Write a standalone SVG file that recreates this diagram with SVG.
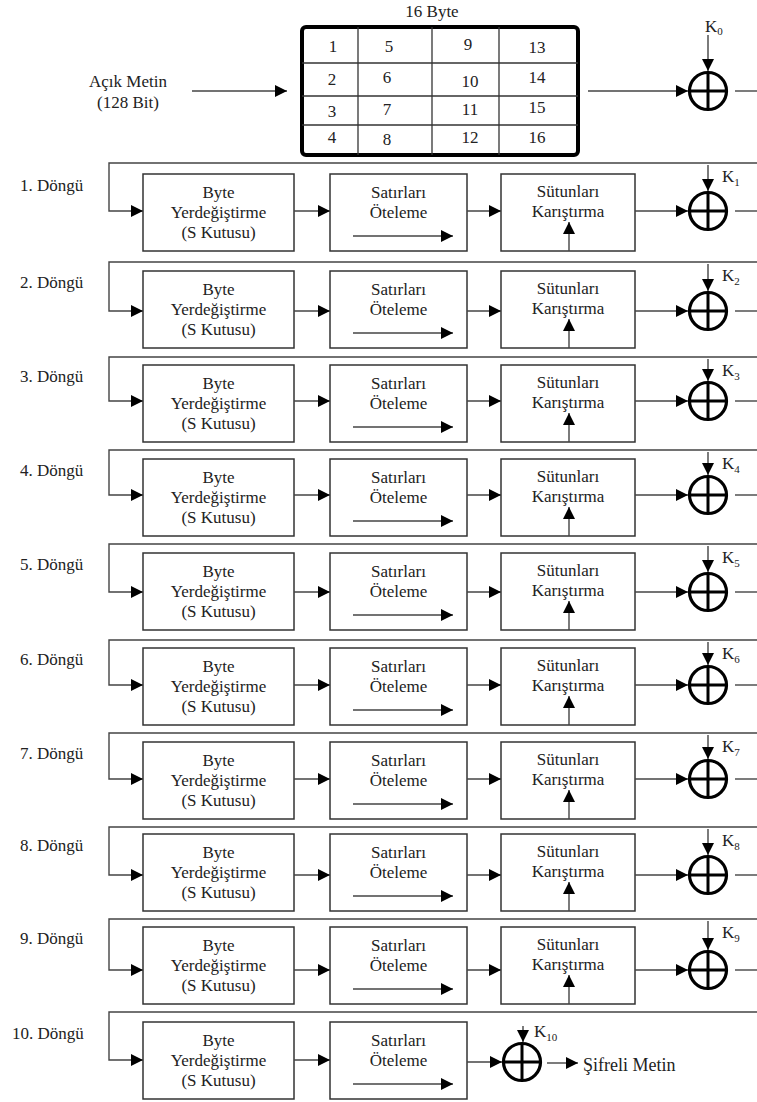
<svg xmlns="http://www.w3.org/2000/svg" xmlns:xlink="http://www.w3.org/1999/xlink" width="757" height="1102" viewBox="0 0 757 1102">
<style>
.bx{fill:#fff;stroke:#333;stroke-width:1.5}
.t{font-family:"Liberation Serif","Times New Roman",serif;font-size:17px;fill:#222;text-anchor:middle}
.l{font-family:"Liberation Serif","Times New Roman",serif;font-size:17px;fill:#222}
.sub{font-size:11px}
.ln{fill:none;stroke:#444;stroke-width:1.4}
.la{fill:none;stroke:#444;stroke-width:1.4;marker-end:url(#ah)}
.xc{fill:#fff;stroke:#000;stroke-width:3.2}
.xl{stroke:#000;stroke-width:3}
.grid{fill:none;stroke:#000;stroke-width:4}
.gl{stroke:#333;stroke-width:1.3}
</style>
<defs>
<marker id="ah" viewBox="0 0 12 12" markerWidth="12" markerHeight="12" refX="12" refY="6" markerUnits="userSpaceOnUse" orient="auto"><path d="M0,0 L12,6 L0,12 z" fill="#000"/></marker>
<g id="xor"><circle class="xc" cx="0" cy="0" r="18.5"/><line class="xl" x1="-18.5" y1="0" x2="18.5" y2="0"/><line class="xl" x1="0" y1="-18.5" x2="0" y2="18.5"/></g>
</defs>
<rect width="757" height="1102" fill="#fff"/>

<g id="input"><text class="t" x="128" y="87">Açık Metin</text><text class="t" x="128" y="108">(128 Bit)</text></g>

<g id="state">
<text class="t" x="432" y="17">16 Byte</text>
<rect class="grid" x="302" y="27" width="276" height="128" rx="4"/>
<line class="gl" x1="358" y1="27" x2="358" y2="155"/><line class="gl" x1="432" y1="27" x2="432" y2="155"/><line class="gl" x1="499" y1="27" x2="499" y2="155"/>
<line class="gl" x1="302" y1="63" x2="578" y2="63"/><line class="gl" x1="302" y1="96" x2="578" y2="96"/><line class="gl" x1="302" y1="125" x2="578" y2="125"/>
<text class="t" x="333" y="52">1</text><text class="t" x="389" y="52">5</text><text class="t" x="468" y="50">9</text><text class="t" x="537" y="53">13</text>
<text class="t" x="332" y="85">2</text><text class="t" x="387" y="83">6</text><text class="t" x="470" y="87">10</text><text class="t" x="537" y="83">14</text>
<text class="t" x="332" y="117">3</text><text class="t" x="387" y="115">7</text><text class="t" x="470" y="115">11</text><text class="t" x="537" y="113">15</text>
<text class="t" x="332" y="143">4</text><text class="t" x="387" y="145">8</text><text class="t" x="470" y="143">12</text><text class="t" x="537" y="143">16</text>
</g>

<g id="xor0"><use xlink:href="#xor" x="708" y="91"/><text class="l" x="705" y="32">K<tspan class="sub" dy="3">0</tspan></text></g>

<!-- Round labels -->
<g id="labels">
<text class="l" x="20" y="191">1. Döngü</text>
<text class="l" x="20" y="288">2. Döngü</text>
<text class="l" x="20" y="382">3. Döngü</text>
<text class="l" x="20" y="476">4. Döngü</text>
<text class="l" x="20" y="570">5. Döngü</text>
<text class="l" x="20" y="665">6. Döngü</text>
<text class="l" x="20" y="759">7. Döngü</text>
<text class="l" x="20" y="851">8. Döngü</text>
<text class="l" x="20" y="944">9. Döngü</text>
<text class="l" x="12" y="1039">10. Döngü</text>
</g>

<!-- Round 1 -->
<g id="r1-sub"><rect class="bx" x="143" y="174" width="151" height="77"/><text class="t" x="218.5" y="198">Byte</text><text class="t" x="218.5" y="218">Yerdeğiştirme</text><text class="t" x="218.5" y="238">(S Kutusu)</text></g>
<g id="r1-shift"><rect class="bx" x="330" y="174" width="137" height="77"/><text class="t" x="398.5" y="198">Satırları</text><text class="t" x="398.5" y="218">Öteleme</text><path class="la" d="M353,236 H453"/></g>
<g id="r1-mix"><rect class="bx" x="501" y="174" width="134" height="77"/><text class="t" x="568" y="197">Sütunları</text><text class="t" x="568" y="217">Karıştırma</text><path class="la" d="M569,251 V222"/></g>
<g id="r1-xor"><use xlink:href="#xor" x="708" y="211"/><text class="l" x="722" y="182">K<tspan class="sub" dy="4">1</tspan></text></g>

<!-- Round 2 -->
<g id="r2-sub"><rect class="bx" x="143" y="271" width="151" height="77"/><text class="t" x="218.5" y="295">Byte</text><text class="t" x="218.5" y="315">Yerdeğiştirme</text><text class="t" x="218.5" y="335">(S Kutusu)</text></g>
<g id="r2-shift"><rect class="bx" x="330" y="271" width="137" height="77"/><text class="t" x="398.5" y="295">Satırları</text><text class="t" x="398.5" y="315">Öteleme</text><path class="la" d="M353,333 H453"/></g>
<g id="r2-mix"><rect class="bx" x="501" y="271" width="134" height="77"/><text class="t" x="568" y="294">Sütunları</text><text class="t" x="568" y="314">Karıştırma</text><path class="la" d="M569,348 V319"/></g>
<g id="r2-xor"><use xlink:href="#xor" x="708" y="311"/><text class="l" x="722" y="281">K<tspan class="sub" dy="4">2</tspan></text></g>

<!-- Round 3 -->
<g id="r3-sub"><rect class="bx" x="143" y="365" width="151" height="77"/><text class="t" x="218.5" y="389">Byte</text><text class="t" x="218.5" y="409">Yerdeğiştirme</text><text class="t" x="218.5" y="429">(S Kutusu)</text></g>
<g id="r3-shift"><rect class="bx" x="330" y="365" width="137" height="77"/><text class="t" x="398.5" y="389">Satırları</text><text class="t" x="398.5" y="409">Öteleme</text><path class="la" d="M353,427 H453"/></g>
<g id="r3-mix"><rect class="bx" x="501" y="365" width="134" height="77"/><text class="t" x="568" y="388">Sütunları</text><text class="t" x="568" y="408">Karıştırma</text><path class="la" d="M569,442 V413"/></g>
<g id="r3-xor"><use xlink:href="#xor" x="708" y="401"/><text class="l" x="722" y="376">K<tspan class="sub" dy="4">3</tspan></text></g>

<!-- Round 4 -->
<g id="r4-sub"><rect class="bx" x="143" y="459" width="151" height="77"/><text class="t" x="218.5" y="483">Byte</text><text class="t" x="218.5" y="503">Yerdeğiştirme</text><text class="t" x="218.5" y="523">(S Kutusu)</text></g>
<g id="r4-shift"><rect class="bx" x="330" y="459" width="137" height="77"/><text class="t" x="398.5" y="483">Satırları</text><text class="t" x="398.5" y="503">Öteleme</text><path class="la" d="M353,521 H453"/></g>
<g id="r4-mix"><rect class="bx" x="501" y="459" width="134" height="77"/><text class="t" x="568" y="482">Sütunları</text><text class="t" x="568" y="502">Karıştırma</text><path class="la" d="M569,536 V507"/></g>
<g id="r4-xor"><use xlink:href="#xor" x="708" y="495"/><text class="l" x="722" y="469">K<tspan class="sub" dy="4">4</tspan></text></g>

<!-- Round 5 -->
<g id="r5-sub"><rect class="bx" x="143" y="553" width="151" height="77"/><text class="t" x="218.5" y="577">Byte</text><text class="t" x="218.5" y="597">Yerdeğiştirme</text><text class="t" x="218.5" y="617">(S Kutusu)</text></g>
<g id="r5-shift"><rect class="bx" x="330" y="553" width="137" height="77"/><text class="t" x="398.5" y="577">Satırları</text><text class="t" x="398.5" y="597">Öteleme</text><path class="la" d="M353,615 H453"/></g>
<g id="r5-mix"><rect class="bx" x="501" y="553" width="134" height="77"/><text class="t" x="568" y="576">Sütunları</text><text class="t" x="568" y="596">Karıştırma</text><path class="la" d="M569,630 V601"/></g>
<g id="r5-xor"><use xlink:href="#xor" x="708" y="592"/><text class="l" x="722" y="563">K<tspan class="sub" dy="4">5</tspan></text></g>

<!-- Round 6 -->
<g id="r6-sub"><rect class="bx" x="143" y="648" width="151" height="77"/><text class="t" x="218.5" y="672">Byte</text><text class="t" x="218.5" y="692">Yerdeğiştirme</text><text class="t" x="218.5" y="712">(S Kutusu)</text></g>
<g id="r6-shift"><rect class="bx" x="330" y="648" width="137" height="77"/><text class="t" x="398.5" y="672">Satırları</text><text class="t" x="398.5" y="692">Öteleme</text><path class="la" d="M353,710 H453"/></g>
<g id="r6-mix"><rect class="bx" x="501" y="648" width="134" height="77"/><text class="t" x="568" y="671">Sütunları</text><text class="t" x="568" y="691">Karıştırma</text><path class="la" d="M569,725 V696"/></g>
<g id="r6-xor"><use xlink:href="#xor" x="708" y="685"/><text class="l" x="722" y="659">K<tspan class="sub" dy="4">6</tspan></text></g>

<!-- Round 7 -->
<g id="r7-sub"><rect class="bx" x="143" y="742" width="151" height="77"/><text class="t" x="218.5" y="766">Byte</text><text class="t" x="218.5" y="786">Yerdeğiştirme</text><text class="t" x="218.5" y="806">(S Kutusu)</text></g>
<g id="r7-shift"><rect class="bx" x="330" y="742" width="137" height="77"/><text class="t" x="398.5" y="766">Satırları</text><text class="t" x="398.5" y="786">Öteleme</text><path class="la" d="M353,804 H453"/></g>
<g id="r7-mix"><rect class="bx" x="501" y="742" width="134" height="77"/><text class="t" x="568" y="765">Sütunları</text><text class="t" x="568" y="785">Karıştırma</text><path class="la" d="M569,819 V790"/></g>
<g id="r7-xor"><use xlink:href="#xor" x="708" y="779"/><text class="l" x="722" y="752">K<tspan class="sub" dy="4">7</tspan></text></g>

<!-- Round 8 -->
<g id="r8-sub"><rect class="bx" x="143" y="834" width="151" height="77"/><text class="t" x="218.5" y="858">Byte</text><text class="t" x="218.5" y="878">Yerdeğiştirme</text><text class="t" x="218.5" y="898">(S Kutusu)</text></g>
<g id="r8-shift"><rect class="bx" x="330" y="834" width="137" height="77"/><text class="t" x="398.5" y="858">Satırları</text><text class="t" x="398.5" y="878">Öteleme</text><path class="la" d="M353,896 H453"/></g>
<g id="r8-mix"><rect class="bx" x="501" y="834" width="134" height="77"/><text class="t" x="568" y="857">Sütunları</text><text class="t" x="568" y="877">Karıştırma</text><path class="la" d="M569,911 V882"/></g>
<g id="r8-xor"><use xlink:href="#xor" x="708" y="875"/><text class="l" x="722" y="846">K<tspan class="sub" dy="4">8</tspan></text></g>

<!-- Round 9 -->
<g id="r9-sub"><rect class="bx" x="143" y="927" width="151" height="77"/><text class="t" x="218.5" y="951">Byte</text><text class="t" x="218.5" y="971">Yerdeğiştirme</text><text class="t" x="218.5" y="991">(S Kutusu)</text></g>
<g id="r9-shift"><rect class="bx" x="330" y="927" width="137" height="77"/><text class="t" x="398.5" y="951">Satırları</text><text class="t" x="398.5" y="971">Öteleme</text><path class="la" d="M353,989 H453"/></g>
<g id="r9-mix"><rect class="bx" x="501" y="927" width="134" height="77"/><text class="t" x="568" y="950">Sütunları</text><text class="t" x="568" y="970">Karıştırma</text><path class="la" d="M569,1004 V975"/></g>
<g id="r9-xor"><use xlink:href="#xor" x="708" y="970"/><text class="l" x="722" y="938">K<tspan class="sub" dy="4">9</tspan></text></g>

<!-- Round 10 -->
<g id="r10-sub"><rect class="bx" x="143" y="1022" width="151" height="77"/><text class="t" x="218.5" y="1046">Byte</text><text class="t" x="218.5" y="1066">Yerdeğiştirme</text><text class="t" x="218.5" y="1086">(S Kutusu)</text></g>
<g id="r10-shift"><rect class="bx" x="330" y="1022" width="137" height="77"/><text class="t" x="398.5" y="1046">Satırları</text><text class="t" x="398.5" y="1066">Öteleme</text><path class="la" d="M353,1084 H453"/></g>
<g id="r10-xor"><use xlink:href="#xor" x="522" y="1062"/><text class="l" x="534" y="1037">K<tspan class="sub" dy="4">10</tspan></text></g>
<g id="output"><text class="l" x="583" y="1071" style="font-size:18px">Şifreli Metin</text></g>

<g id="connectors">
<path class="la" d="M192,91 H287"/>
<path class="la" d="M588,91 H688"/>
<path class="la" d="M708,35 V71"/>
<path class="ln" d="M735,91 H757"/>

<path class="la" d="M757,163 H109 V211 H143"/><path class="la" d="M294,211 H330"/><path class="la" d="M467,211 H501"/><path class="la" d="M635,211 H688"/><path class="la" d="M708,165 V191"/><path class="ln" d="M735,211 H757"/>
<path class="la" d="M757,262 H109 V311 H143"/><path class="la" d="M294,311 H330"/><path class="la" d="M467,311 H501"/><path class="la" d="M635,311 H688"/><path class="la" d="M708,264 V291"/><path class="ln" d="M735,311 H757"/>
<path class="la" d="M757,357 H109 V401 H143"/><path class="la" d="M294,401 H330"/><path class="la" d="M467,401 H501"/><path class="la" d="M635,401 H688"/><path class="la" d="M708,359 V381"/><path class="ln" d="M735,401 H757"/>
<path class="la" d="M757,450 H109 V495 H143"/><path class="la" d="M294,495 H330"/><path class="la" d="M467,495 H501"/><path class="la" d="M635,495 H688"/><path class="la" d="M708,452 V475"/><path class="ln" d="M735,495 H757"/>
<path class="la" d="M757,544 H109 V592 H143"/><path class="la" d="M294,592 H330"/><path class="la" d="M467,592 H501"/><path class="la" d="M635,592 H688"/><path class="la" d="M708,546 V572"/><path class="ln" d="M735,592 H757"/>
<path class="la" d="M757,640 H109 V685 H143"/><path class="la" d="M294,685 H330"/><path class="la" d="M467,685 H501"/><path class="la" d="M635,685 H688"/><path class="la" d="M708,642 V665"/><path class="ln" d="M735,685 H757"/>
<path class="la" d="M757,733 H109 V779 H143"/><path class="la" d="M294,779 H330"/><path class="la" d="M467,779 H501"/><path class="la" d="M635,779 H688"/><path class="la" d="M708,735 V759"/><path class="ln" d="M735,779 H757"/>
<path class="la" d="M757,827 H109 V875 H143"/><path class="la" d="M294,875 H330"/><path class="la" d="M467,875 H501"/><path class="la" d="M635,875 H688"/><path class="la" d="M708,829 V855"/><path class="ln" d="M735,875 H757"/>
<path class="la" d="M757,919 H109 V970 H143"/><path class="la" d="M294,970 H330"/><path class="la" d="M467,970 H501"/><path class="la" d="M635,970 H688"/><path class="la" d="M708,921 V950"/><path class="ln" d="M735,970 H757"/>
<path class="la" d="M757,1012 H109 V1060 H143"/><path class="la" d="M294,1060 H330"/><path class="la" d="M467,1062 H502"/><path class="la" d="M523,1026 V1042"/><path class="la" d="M547,1063 H578"/>
</g>
</svg>
